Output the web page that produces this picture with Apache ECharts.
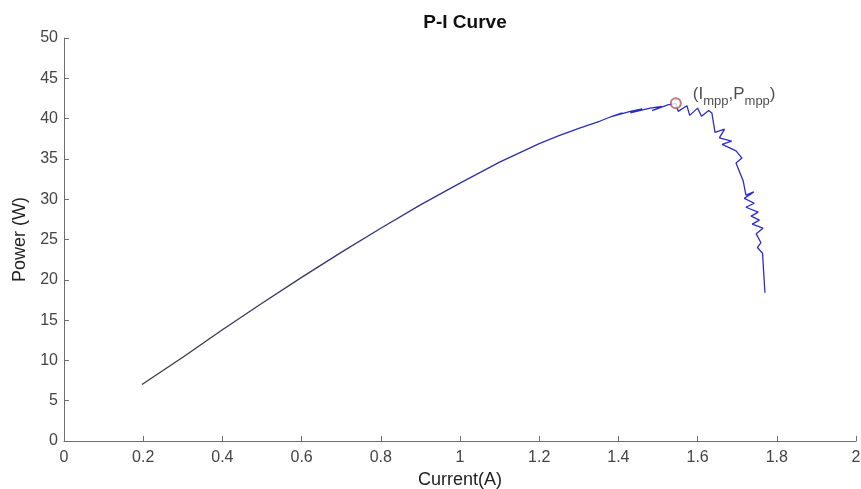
<!DOCTYPE html>
<html>
<head>
<meta charset="utf-8">
<title>P-I Curve</title>
<script src="https://cdn.jsdelivr.net/npm/echarts@6/dist/echarts.min.js"></script>
<style>
  html, body { margin: 0; padding: 0; background: #fff; }
  #chart { width: 861px; height: 489px; }
</style>
</head>
<body>
<div id="chart"></div>
<script>
// measured P-I trace (current in A, power in W), in drawing order
var currentA = [
  0.197, 0.3, 0.4, 0.5, 0.6, 0.7, 0.8, 0.9, 1.0, 1.1, 1.2, 1.25, 1.3, 1.354,
  1.38, 1.41, 1.38, 1.43, 1.46, 1.43, 1.48, 1.51, 1.485, 1.525, 1.545,
  1.551, 1.573, 1.580, 1.600, 1.610, 1.628, 1.636, 1.644, 1.668, 1.655,
  1.686, 1.662, 1.697, 1.712, 1.697, 1.715, 1.722, 1.742, 1.718, 1.743,
  1.722, 1.753, 1.735, 1.756, 1.738, 1.765, 1.748, 1.760, 1.751, 1.764, 1.770
];
var powerW = [
  7.0, 10.4, 13.8, 17.1, 20.3, 23.4, 26.4, 29.3, 32.0, 34.6, 36.9, 37.9, 38.8, 39.7,
  40.2, 40.7, 40.2, 40.9, 41.2, 40.7, 41.3, 41.5, 41.0, 41.7, 41.9,
  40.9, 41.6, 40.4, 41.3, 40.3, 41.0, 40.7, 38.3, 38.7, 37.6,
  37.2, 36.8, 36.0, 35.1, 34.5, 32.3, 30.5, 30.9, 30.1, 29.5,
  29.0, 28.4, 27.9, 27.4, 26.9, 26.4, 25.7, 24.6, 24.0, 23.3, 18.4
];
// maximum power point
var mppPoint = [1.545, 41.9];

var curveData = currentA.map(function (c, i) { return [c, powerW[i]]; });

var chart = echarts.init(document.getElementById('chart'));
var axisGray = '#6e6e6e';
var labelGray = '#444';

chart.setOption({
  backgroundColor: '#fff',
  animation: false,
  title: {
    text: 'P-I Curve',
    left: 460,
    textAlign: 'center',
    top: 8,
    textStyle: {
      fontFamily: 'Liberation Sans',
      fontSize: 19,
      fontWeight: 'bold',
      color: '#111'
    }
  },
  grid: {
    left: 64,
    right: 5,
    top: 38,
    bottom: 48,
    outerBoundsMode: 'none',
    containLabel: false
  },
  xAxis: {
    type: 'value',
    min: 0,
    max: 2,
    interval: 0.2,
    name: 'Current(A)',
    nameLocation: 'middle',
    nameGap: 22,
    nameTextStyle: { fontFamily: 'Liberation Sans', fontSize: 18, color: '#222' },
    axisLine: { show: true, lineStyle: { color: axisGray, width: 1 } },
    axisTick: { show: true, inside: true, length: 5, lineStyle: { color: axisGray } },
    axisLabel: { fontFamily: 'Liberation Sans', fontSize: 16, color: labelGray, margin: 9 },
    splitLine: { show: false }
  },
  yAxis: {
    type: 'value',
    min: 0,
    max: 50,
    interval: 5,
    name: 'Power (W)',
    nameLocation: 'middle',
    nameGap: 34,
    nameTextStyle: { fontFamily: 'Liberation Sans', fontSize: 18, color: '#222' },
    axisLine: { show: true, lineStyle: { color: axisGray, width: 1 } },
    axisTick: { show: true, inside: true, length: 5, lineStyle: { color: axisGray } },
    axisLabel: { fontFamily: 'Liberation Sans', fontSize: 16, color: labelGray, margin: 6 },
    splitLine: { show: false }
  },
  series: [{
    type: 'line',
    data: curveData,
    showSymbol: false,
    smooth: false,
    lineStyle: {
      width: 1.3,
      color: new echarts.graphic.LinearGradient(0, 0, 1, 0, [
        { offset: 0, color: '#3a3a3a' },
        { offset: 0.35, color: '#35357a' },
        { offset: 0.7, color: '#2c2cb8' },
        { offset: 1, color: '#2a2ad6' }
      ])
    },
    z: 2
  }, {
    type: 'scatter',
    data: [mppPoint],
    symbol: 'emptyCircle',
    symbolSize: 10,
    itemStyle: { color: '#b25a50', borderColor: '#b25a50', borderWidth: 1.2 },
    label: {
      show: true,
      position: 'right',
      offset: [6, -10],
      formatter: '{m|(I}{s|mpp}{m|,P}{s|mpp}{m|)}',
      rich: {
        m: { fontFamily: 'Liberation Sans', fontSize: 17, color: '#222', verticalAlign: 'bottom', lineHeight: 20 },
        s: { fontFamily: 'Liberation Sans', fontSize: 13, color: '#222', verticalAlign: 'bottom', lineHeight: 14, padding: [0, 0, -5, 0] }
      }
    },
    z: 3
  }]
});
</script>
</body>
</html>
